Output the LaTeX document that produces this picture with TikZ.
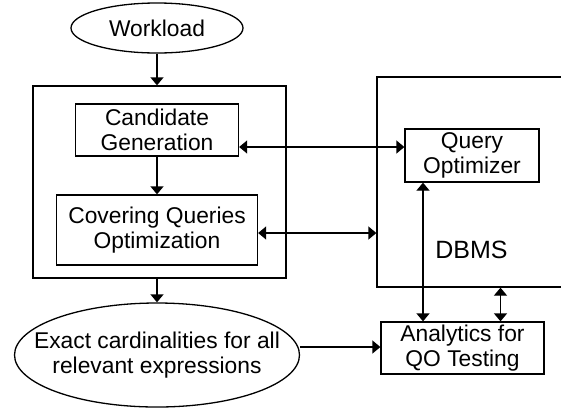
\documentclass[tikz,border=0pt]{standalone}
\usepackage{fontspec}
\setmainfont{Liberation Sans}
\usetikzlibrary{arrows.meta,positioning,shapes.geometric}

\begin{document}
\begin{tikzpicture}[->,>={Triangle[length=4pt,width=6.5pt]},x=0.5pt,y=-0.5pt,
                    line width=0.65pt,node distance=50pt,
                    font=\fontsize{11.4}{12.5}\selectfont]
  \tikzstyle{blk}=[draw,align=center,inner sep=0pt]
  \tikzstyle{oval}=[draw,ellipse,align=center,inner sep=0pt]

  \useasboundingbox (0,0) rectangle (561,408);
  \clip (0,0) rectangle (561,408);

  \node[oval,minimum width=86pt,minimum height=25pt] (wl) at (157,28) {Workload};
  \node[blk,minimum width=126.5pt,minimum height=96pt] (frame) at (159.5,182) {};
  \node[blk,minimum width=81.5pt,minimum height=26pt] (cg) [below of=wl,node distance=51pt] {Candidate\\Generation};
  \node[blk,minimum width=100.5pt,minimum height=35pt] (cq) [below of=cg] {Covering Queries\\Optimization};
  \node[oval,minimum width=142.5pt,minimum height=52pt,inner xsep=-12pt] (ex) [below of=cq,node distance=62.5pt] {Exact cardinalities for all\\relevant expressions};

  \node[blk,minimum width=111.5pt,minimum height=105pt] (dbms) at (488.5,182) {};
  \node (dbmslbl) at (471.5,250) {\fontsize{12.5}{15}\selectfont DBMS};
  \node[blk,minimum width=67pt,minimum height=26.5pt] (qo) at (472,155.5) {Query\\Optimizer};
  \node[blk,minimum width=81.5pt,minimum height=26pt] (an) at (462.5,348) {Analytics for\\QO Testing};

  \path (wl.south) edge (wl.south |- frame.north)
        (cg) edge (cq)
        (ex.north |- frame.south) edge (ex.north)
        ([yshift=-8.5pt]cg.east) edge [<->] ([yshift=-8.5pt]cg.east -| qo.west)
        ([yshift=-1.5pt]cq.east) edge [<->] ([yshift=-1.5pt]cq.east -| dbms.west)
        ([xshift=-24.5pt]qo.south) edge [<->] ([xshift=-24.5pt]qo.south |- an.north)
        ([xshift=19pt]an.north) edge [<->] ([xshift=19pt]an.north |- dbms.south)
        ([yshift=4pt]ex.east) edge ([yshift=4pt]ex.east -| an.west);
\end{tikzpicture}
\end{document}
